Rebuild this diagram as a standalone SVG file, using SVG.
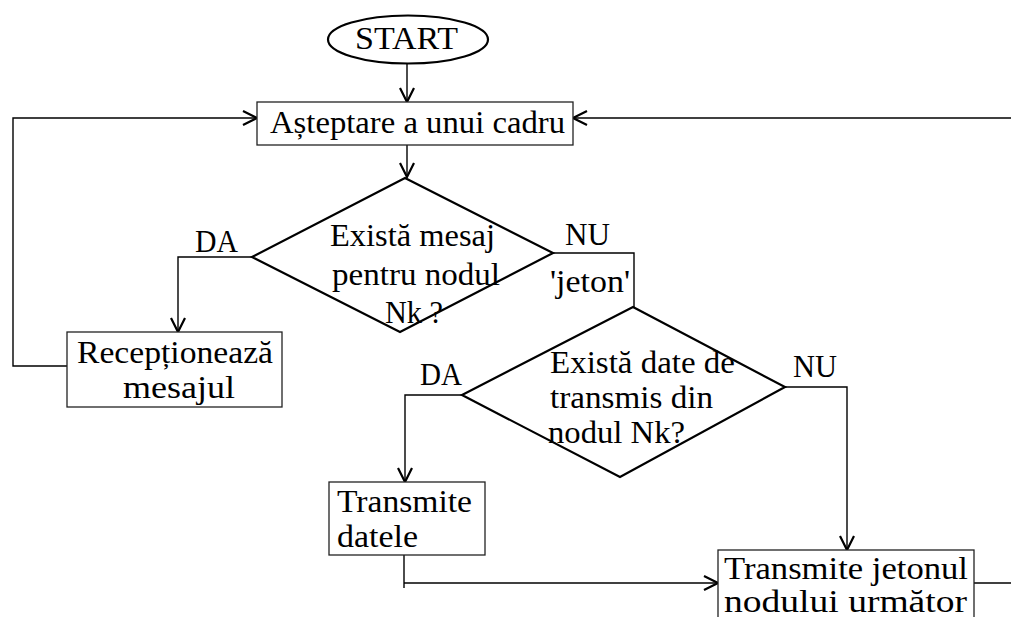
<svg xmlns="http://www.w3.org/2000/svg" width="1011" height="617" viewBox="0 0 1011 617">
  <style>
    text { font-family: "Liberation Serif", "Times New Roman", Tinos, "DejaVu Serif", serif; font-size: 31px; fill: #000; }
    .box { fill: #fff; stroke: #222; stroke-width: 1.3; }
    .dec { fill: #fff; stroke: #000; stroke-width: 2.2; }
    .term { fill: #fff; stroke: #000; stroke-width: 2.2; }
    .wire { fill: none; stroke: #000; stroke-width: 1.4; }
  </style>
  <defs>
    <marker id="arr" viewBox="0 0 16 16" refX="15" refY="8" markerWidth="16" markerHeight="16" markerUnits="userSpaceOnUse" orient="auto">
      <path d="M1,1 L15,8 L1,15" fill="none" stroke="#000" stroke-width="2.2"/>
    </marker>
  </defs>
  <rect width="1011" height="617" fill="#fff"/>

  <!-- connectors -->
  <g id="connectors">
    <line class="wire" x1="407" y1="64" x2="407" y2="102" marker-end="url(#arr)"/>
    <line class="wire" x1="407" y1="145" x2="407" y2="177" marker-end="url(#arr)"/>
    <!-- DA branch of first decision -->
    <polyline class="wire" points="252,257 178,257 178,332" marker-end="url(#arr)"/>
    <!-- loop back from receive -->
    <polyline class="wire" points="67,366 13,366 13,118 257,118" marker-end="url(#arr)"/>
    <!-- loop back from right edge -->
    <line class="wire" x1="1011" y1="118" x2="573" y2="118" marker-end="url(#arr)"/>
    <!-- NU branch: token -->
    <polyline class="wire" points="553,253 634,253 634,307"/>
    <!-- DA branch of second decision -->
    <polyline class="wire" points="462,395 405,395 405,482" marker-end="url(#arr)"/>
    <!-- NU branch of second decision -->
    <polyline class="wire" points="785,387 847,387 847,550" marker-end="url(#arr)"/>
    <!-- from send data to pass token -->
    <line class="wire" x1="404" y1="555" x2="404" y2="588"/>
    <line class="wire" x1="404" y1="583" x2="718" y2="583" marker-end="url(#arr)"/>
    <line class="wire" x1="974" y1="583" x2="1011" y2="583"/>
  </g>

  <g id="start">
    <ellipse class="term" cx="408" cy="39.5" rx="80" ry="24"/>
    <text x="355" y="49" font-size="32" textLength="103" lengthAdjust="spacingAndGlyphs">START</text>
  </g>

  <g id="wait">
    <rect class="box" x="257" y="102" width="316" height="43"/>
    <text x="270" y="133" textLength="295" lengthAdjust="spacingAndGlyphs">Așteptare a unui cadru</text>
  </g>

  <g id="has-message">
    <polygon class="dec" points="405,178 553,253 400,332 252,257"/>
    <text x="330" y="246" textLength="165" lengthAdjust="spacingAndGlyphs">Există mesaj</text>
    <text x="332" y="285" textLength="168" lengthAdjust="spacingAndGlyphs">pentru nodul</text>
    <text x="385" y="323" textLength="58" lengthAdjust="spacingAndGlyphs">Nk ?</text>
  </g>

  <g id="receive">
    <rect class="box" x="67" y="332" width="215" height="75"/>
    <text x="77" y="363" textLength="196" lengthAdjust="spacingAndGlyphs">Recepționează</text>
    <text x="123" y="398" textLength="112" lengthAdjust="spacingAndGlyphs">mesajul</text>
  </g>

  <g id="has-data">
    <polygon class="dec" points="633,307 785,387 620,477 462,395"/>
    <text x="550" y="373" textLength="185" lengthAdjust="spacingAndGlyphs">Există date de</text>
    <text x="550" y="408" textLength="163" lengthAdjust="spacingAndGlyphs">transmis din</text>
    <text x="548" y="443" textLength="137" lengthAdjust="spacingAndGlyphs">nodul Nk?</text>
  </g>

  <g id="send-data">
    <rect class="box" x="329" y="482" width="156" height="73"/>
    <text x="337" y="512" textLength="135" lengthAdjust="spacingAndGlyphs">Transmite</text>
    <text x="337" y="547" textLength="81" lengthAdjust="spacingAndGlyphs">datele</text>
  </g>

  <g id="pass-token">
    <rect class="box" x="718" y="550" width="256" height="80"/>
    <text x="724" y="579" textLength="244" lengthAdjust="spacingAndGlyphs">Transmite jetonul</text>
    <text x="724" y="612" textLength="243" lengthAdjust="spacingAndGlyphs">nodului următor</text>
  </g>

  <g id="branch-labels">
    <text x="195" y="252" textLength="43" lengthAdjust="spacingAndGlyphs">DA</text>
    <text x="565" y="245" textLength="45" lengthAdjust="spacingAndGlyphs">NU</text>
    <text x="550" y="292" textLength="80" lengthAdjust="spacingAndGlyphs">'jeton'</text>
    <text x="420" y="385" textLength="42" lengthAdjust="spacingAndGlyphs">DA</text>
    <text x="793" y="377" textLength="44" lengthAdjust="spacingAndGlyphs">NU</text>
  </g>
</svg>
